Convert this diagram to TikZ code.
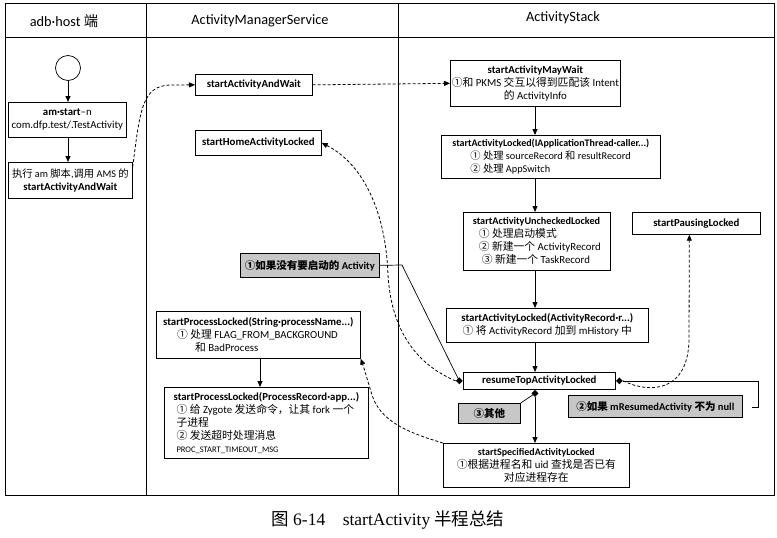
\documentclass[tikz,border=0pt]{standalone}
\usepackage{fontspec}
\setmainfont{Carlito}
\newfontfamily\cjk{Noto Sans CJK SC}
\newfontfamily\capserif{Liberation Serif}
\usetikzlibrary{arrows.meta,shapes.geometric,calc}
\newcommand\zh[1]{{\cjk #1}}
\newcommand\fsz[1]{\fontsize{#1}{13}\selectfont}
\begin{document}
\begin{tikzpicture}[x=1pt,y=-1pt,
  frame/.style={line width=0.9pt},
  box/.style={draw, line width=0.7pt, fill=white, inner sep=1.5pt, anchor=north west, align=center, font=\fontsize{10.8}{13}\selectfont},
  lbox/.style={box, align=left},
  call/.style={box, fill=black!22, font=\bfseries\fontsize{10.5}{12}\selectfont},
  hdr/.style={font=\fontsize{14.3}{16}\selectfont, inner sep=0},
  arr/.style={line width=0.8pt, -{Triangle[length=6pt,width=5pt]}},
  darr/.style={arr, dash pattern=on 3pt off 2pt},
  link/.style={line width=0.7pt},
  mk/.style={diamond, fill=black, inner sep=0, minimum size=7pt}]
\useasboundingbox (0,0) rectangle (777,538);
\fill[white] (0,0) rectangle (777,538);
% table frame
\draw[frame] (5,3) rectangle (774,495);
\draw[frame] (5,37) -- (774,37);
\draw[frame] (146,3) -- (146,495);
\draw[frame] (398,3) -- (398,495);
\node[hdr] (h1) at (64,21) {adb·host \zh{端}};
\node[hdr] (h2) at (260,21) {ActivityManagerService};
\node[hdr] (h3) at (563,18) {ActivityStack};
% nodes
\node[draw, circle, minimum size=25, inner sep=0, line width=0.7pt] (s) at (68,68) {};
\node[box, minimum width=118, minimum height=35] (amstart) at (8,102) {\textbf{am·start}–n\\com.dfp.test/.TestActivity};
\node[box, minimum width=124, minimum height=36] (exec) at (8,162) {{\fsz{10.3}\zh{执行} am \zh{脚本},\zh{调用} AMS \zh{的}}\\\textbf{startActivityAndWait}};
\node[box, minimum width=117, minimum height=21] (saw) at (195,74) {\textbf{startActivityAndWait}};
\node[box, minimum width=126, minimum height=25] (home) at (195,130) {\textbf{startHomeActivityLocked}};
\node[call, minimum width=139, minimum height=24] (c1) at (240,253) {\zh{①如果没有要启动的} Activity};
\node[lbox, minimum width=204, minimum height=47] (spl1) at (156,311) {\textbf{startProcessLocked(String·processName...)}\\\hspace*{14pt}\zh{① 处理} FLAG\_FROM\_BACKGROUND\\\hspace*{32pt}\zh{和} BadProcess};
\node[lbox, minimum width=204, minimum height=71] (spl2) at (164,387) {\textbf{startProcessLocked(ProcessRecord·app...)}\\\hspace*{3pt}\zh{① 给} Zygote \zh{发送命令，让其} fork \zh{一个}\\\hspace*{3pt}\zh{子进程}\\\hspace*{3pt}\zh{② 发送超时处理消息}\\\hspace*{3pt}{\fontsize{8.5}{10}\selectfont PROC\_START\_TIMEOUT\_MSG}};
\node[box, minimum width=168, minimum height=46] (smw) at (450,60) {\textbf{startActivityMayWait}\\\zh{①和} PKMS \zh{交互以得到匹配该} Intent\\\zh{的} ActivityInfo};
\node[lbox, minimum width=219, minimum height=43] (sal1) at (441,135) {{\fsz{10}\textbf{startActivityLocked(IApplicationThread·caller...)}}\\\hspace*{18pt}{\fsz{10.3}\zh{① 处理} sourceRecord \zh{和} resultRecord}\\\hspace*{18pt}{\fsz{10.3}\zh{② 处理} AppSwitch}};
\node[lbox, minimum width=147, minimum height=58] (sacl) at (463,212) {{\fsz{10.2}\textbf{startActivityUncheckedLocked}}\\\hspace*{6pt}\zh{① 处理启动模式}\\\hspace*{6pt}\zh{② 新建一个} ActivityRecord\\\hspace*{9pt}\zh{③ 新建一个} TaskRecord};
\node[box, minimum width=128, minimum height=22] (spause) at (632,212) {\textbf{startPausingLocked}};
\node[box, minimum width=202, minimum height=34] (sal2) at (446,308) {\textbf{startActivityLocked(ActivityRecord·r...)}\\\zh{① 将} ActivityRecord \zh{加到} mHistory \zh{中}};
\node[box, minimum width=152, minimum height=17] (rtal) at (463,372) {\textbf{resumeTopActivityLocked}};
\node[call, minimum width=174, minimum height=22] (c2) at (568,395) {\zh{②如果} mResumedActivity \zh{不为} null};
\node[call, minimum width=62, minimum height=20] (c3) at (458,403) {\zh{③其他}};
\node[box, minimum width=186, minimum height=44] (ssal) at (443,443) {{\fsz{10}\textbf{startSpecifiedActivityLocked}}\\\zh{①根据进程名和} uid \zh{查找是否已有}\\\zh{对应进程存在}};
% markers
\node[mk, anchor=east] (dL) at (rtal.west) {};
\node[mk, anchor=west] (dR) at (rtal.east) {};
\coordinate (colx) at (535,0);
\coordinate (colp) at (260,0);
\node[mk, anchor=north] (dB) at (rtal.south -| colx) {};
% connectors
\draw[arr] (s.south) -- (amstart.north -| s.south);
\draw[arr] (amstart.south -| s.south) -- (exec.north -| s.south);
\coordinate (e1) at ([yshift=-5pt]exec.north east);
\draw[darr] (e1) .. controls (140,110) and (142,86) .. (170,85) -- (saw.west);
\draw[darr] (saw.east) -- (smw.west);
\draw[arr] (smw.south -| colx) -- (sal1.north -| colx);
\draw[arr] (sal1.south -| colx) -- (sacl.north -| colx);
\draw[arr] (sacl.south -| colx) -- (sal2.north -| colx);
\draw[arr] (sal2.south -| colx) -- (rtal.north -| colx);
\draw[arr] (dB.south) -- (ssal.north -| colx);
\draw[arr] (spl1.south -| colp) -- (spl2.north -| colp);
\draw[darr] (dL.west) .. controls (425,368) and (392,340) .. (388,275) .. controls (386,215) and (365,165) .. (home.east);
\coordinate (c1k) at (402,265);
\draw[link] (c1.east) -- (c1k) -- (dL.center);
\draw[darr] (ssal.north west) .. controls (405,432) and (380,420) .. (372,395) .. controls (366,375) and (363,365) .. (spl1.south east);
\draw[darr] (dR.east) .. controls (650,394) and (688,392) .. (689,340) -- ([xshift=-7pt]spause.south);
\coordinate (b2) at (758,407);
\coordinate (b3) at (752,407);
\draw[link] (dR.east) -| (b2) -- (b3);
\draw[link] (c3.north east) -- (dB.center);
% caption
\node[font=\fontsize{17.5}{20}\selectfont, inner sep=0] (cap) at (388,520) {\zh{图}\ {\capserif 6-14\quad startActivity}\ \zh{半程总结}};
\end{tikzpicture}
\end{document}
